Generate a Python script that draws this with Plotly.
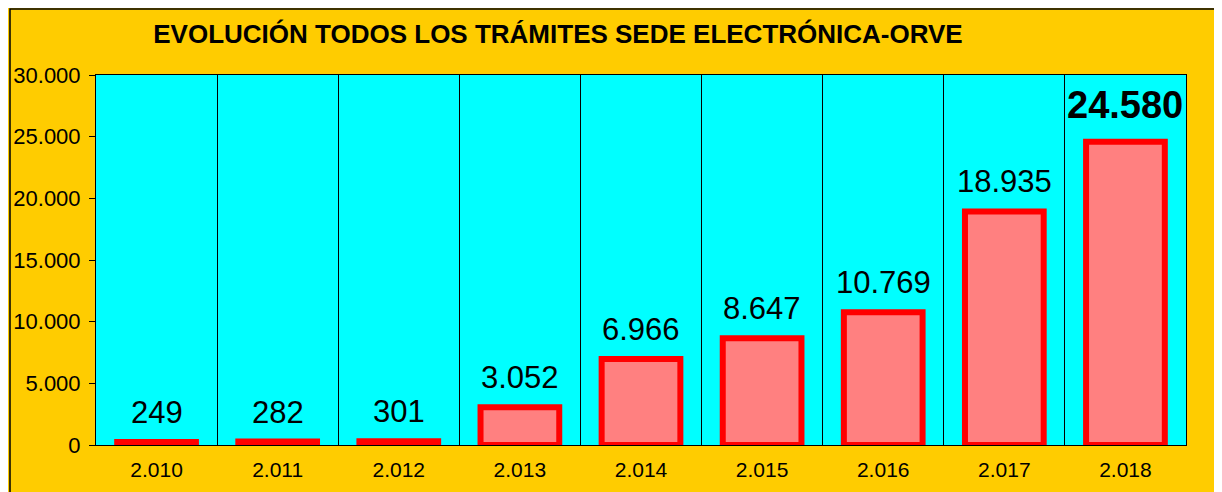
import plotly.graph_objects as go

years = ["2.010", "2.011", "2.012", "2.013", "2.014", "2.015", "2.016", "2.017", "2.018"]
values = [249, 282, 301, 3052, 6966, 8647, 10769, 18935, 24580]
y_ticks = [0, 5000, 10000, 15000, 20000, 25000, 30000]
title_text = "EVOLUCIÓN TODOS LOS TRÁMITES SEDE ELECTRÓNICA-ORVE"

FONT = "Liberation Sans, Arial, sans-serif"

def fmt(v):
    return f"{v:,}".replace(",", ".")

OFF = 8  # page body margin
W, H = 1222, 492
L = 96 - OFF
T = 75 - OFF
R = W - (1186 - OFF)
B = H - (445 - OFF)
pw, ph = W - L - R, H - T - B

def px_x(p):
    return (p - OFF - L) / pw

def px_y(p):
    return (H - B - (p - OFF)) / ph

fig = go.Figure()
fig.add_trace(go.Bar(
    x=years, y=values, width=0.65,
    marker=dict(color="#FF8080", line=dict(color="#FF0000", width=6)),
    hoverinfo="x+y",
))

annotations = []
for i, v in enumerate(values):
    last = i == len(values) - 1
    annotations.append(dict(
        x=i, y=v, xref="x", yref="y", text=("<b>%s</b>" % fmt(v)) if last else fmt(v),
        showarrow=False, yanchor="bottom", yshift=(14 if last else 10),
        font=dict(family=FONT, size=38 if last else 31, color="black"),
    ))

shapes = [
    dict(type="rect", xref="paper", yref="paper", layer="above",
         x0=px_x(10), x1=px_x(W + 20), y0=px_y(H + 20), y1=px_y(9),
         fillcolor="rgba(0,0,0,0)", line=dict(color="black", width=1.5)),
]

fig.update_layout(
    width=W, height=H,
    margin=dict(l=L, r=R, t=T, b=B, pad=0, autoexpand=False),
    paper_bgcolor="#FFCC00",
    plot_bgcolor="#00FFFF",
    separators=",.",
    showlegend=False,
    title=dict(text="<b>%s</b>" % title_text, x=(558 - OFF) / W, xanchor="center",
               y=1 - (34 - OFF) / H, yanchor="middle", automargin=False,
               font=dict(family=FONT, size=26, color="black")),
    font=dict(family=FONT, color="black"),
    annotations=annotations,
    shapes=shapes,
    xaxis=dict(
        type="category", tickson="boundaries", showgrid=True, gridcolor="black", gridwidth=1,
        ticks="", tickfont=dict(family=FONT, size=21, color="black"),
        showline=True, mirror=True, linecolor="black", linewidth=1,
        ticklabelstandoff=6, automargin=False,
    ),
    yaxis=dict(
        range=[0, 30000], tickvals=y_ticks, ticktext=[fmt(t) for t in y_ticks],
        showgrid=False, zeroline=False,
        ticks="outside", ticklen=6, tickcolor="black",
        tickfont=dict(family=FONT, size=22, color="black"),
        showline=True, mirror=True, linecolor="black", linewidth=1,
        ticklabelstandoff=4, automargin=False,
    ),
)

fig.write_html("out.html")
